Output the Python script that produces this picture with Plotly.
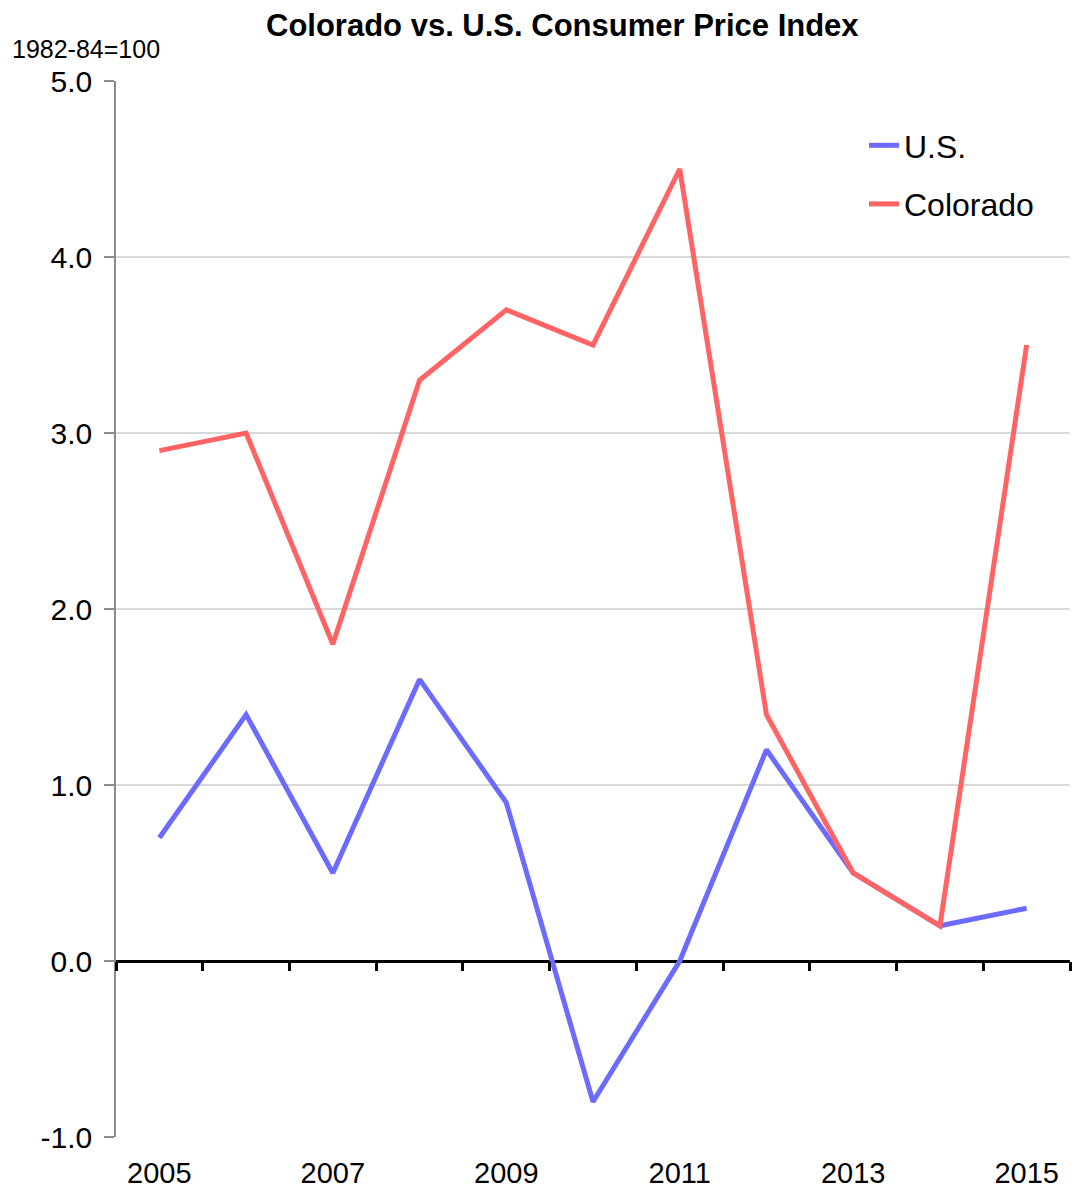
import plotly.graph_objects as go

# Annual CPI change, percent (1982-84=100 base)
years = [2005, 2006, 2007, 2008, 2009, 2010, 2011, 2012, 2013, 2014, 2015]
us_values = [0.7, 1.4, 0.5, 1.6, 0.9, -0.8, 0.0, 1.2, 0.5, 0.2, 0.3]
colorado_values = [2.9, 3.0, 1.8, 3.3, 3.7, 3.5, 4.5, 1.4, 0.5, 0.2, 3.5]
x_tick_labels = ["2005", "2007", "2009", "2011", "2013", "2015"]
y_ticks = [-1, 0, 1, 2, 3, 4, 5]
y_tick_labels = ["-1.0", "0.0", "1.0", "2.0", "3.0", "4.0", "5.0"]

FONT = "Liberation Sans Narrow, Arial Narrow, Liberation Sans, Arial, sans-serif"
BLUE = "#6B6BFF"
RED = "#FF6363"

fig = go.Figure()
fig.add_trace(go.Scatter(x=years, y=us_values, mode="lines", name="U.S.",
                         legendgroup="us",
                         line=dict(color=BLUE, width=5)))
fig.add_trace(go.Scatter(x=years, y=colorado_values, mode="lines", name="Colorado",
                         legendgroup="co",
                         line=dict(color=RED, width=5)))
# carrier trace for the category-boundary tick axis along zero
fig.add_trace(go.Scatter(x=[], y=[], xaxis="x2", showlegend=False, hoverinfo="skip"))

boundaries = [y - 0.5 for y in years] + [years[-1] + 0.5]
x_range = [years[0] - 0.5, years[-1] + 0.5]
y_range = [-1, 5]

PLOT_W = 1074 - 116 - 4
PLOT_H = 1192 - 81 - 55

fig.update_layout(
    width=1074, height=1192,
    margin=dict(l=116, r=4, t=81, b=55, autoexpand=False),
    paper_bgcolor="white", plot_bgcolor="white",
    font=dict(family=FONT, size=29, color="black"),
    showlegend=True,
    legend=dict(x=(864 - 116) / PLOT_W, y=1 - (118 - 81) / PLOT_H,
                xanchor="left", yanchor="top",
                font=dict(size=32), bgcolor="rgba(0,0,0,0)",
                traceorder="grouped", tracegroupgap=14),
    xaxis=dict(range=x_range, tickmode="array",
               tickvals=[int(t) for t in x_tick_labels], ticktext=x_tick_labels,
               ticks="", showgrid=False, zeroline=False, showline=False,
               automargin=False,
               ticklabelstandoff=16, tickfont=dict(size=29)),
    xaxis2=dict(range=x_range, overlaying="x", anchor="free", side="bottom",
                position=(0 - y_range[0]) / (y_range[1] - y_range[0]),
                tickmode="array", tickvals=boundaries, ticks="outside",
                ticklen=9, tickwidth=3, tickcolor="black",
                showticklabels=False, showgrid=False, zeroline=False,
                showline=False, automargin=False),
    yaxis=dict(range=y_range, tickmode="array", tickvals=y_ticks,
               ticktext=y_tick_labels, automargin=False,
               showgrid=True, gridcolor="#D9D9D9", gridwidth=1.5,
               zeroline=True, zerolinecolor="black", zerolinewidth=3,
               showline=True, linecolor="#8C8C8C", linewidth=1.5,
               ticks="outside", ticklen=10, tickcolor="#8C8C8C", tickwidth=1.5,
               ticklabelstandoff=6, tickfont=dict(size=30)),
    annotations=[
        dict(text="<b>Colorado vs. U.S. Consumer Price Index</b>",
             xref="paper", yref="paper", x=(562 - 116) / PLOT_W,
             y=1 + (81 - 25) / PLOT_H, xanchor="center", yanchor="middle",
             showarrow=False, font=dict(size=31)),
        dict(text="1982-84=100", xref="paper", yref="paper",
             x=-(116 - 10) / PLOT_W, y=1 + (81 - 49) / PLOT_H,
             xanchor="left", yanchor="middle", showarrow=False,
             font=dict(size=25)),
    ],
)

fig.write_html("out.html")
